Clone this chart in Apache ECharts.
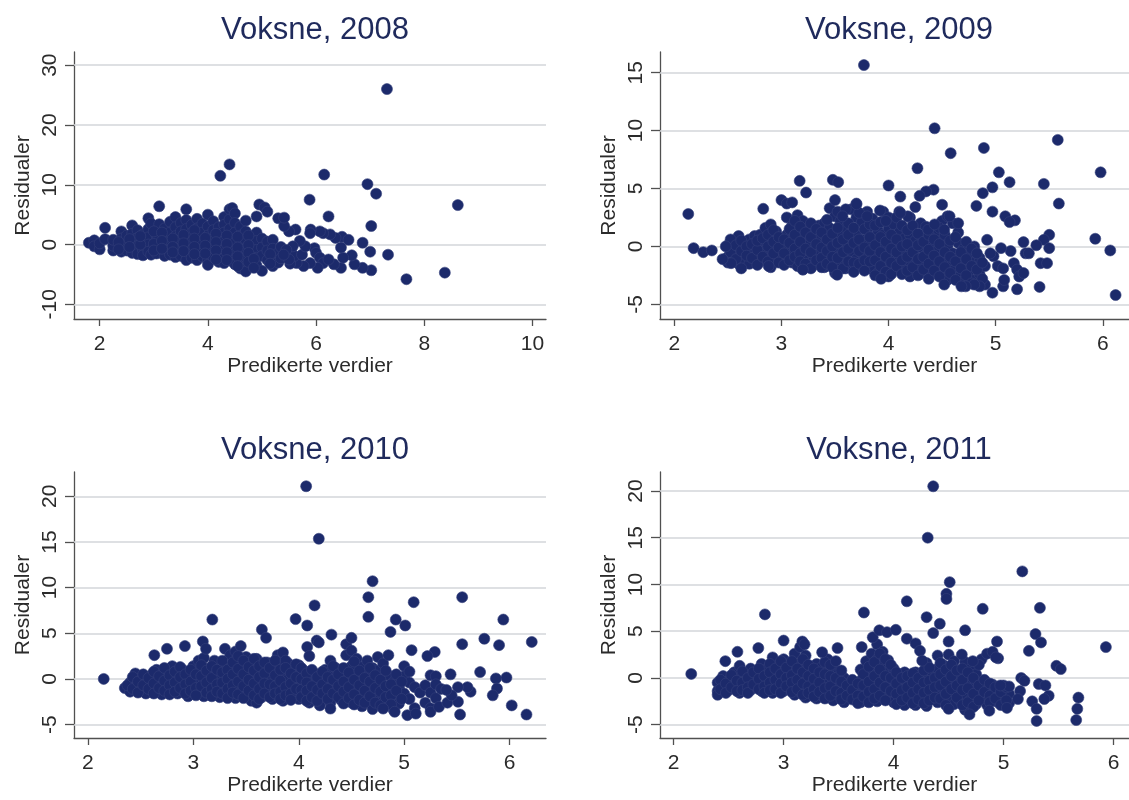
<!DOCTYPE html>
<html><head><meta charset="utf-8">
<script src="https://cdn.jsdelivr.net/npm/echarts@6/dist/echarts.min.js"></script>
<style>html,body{margin:0;padding:0;background:#fff}#c{width:1129px;height:800px}</style>
</head><body><div id="c"></div>
<script>
// ---------- DATA ----------
const titles = ['Voksne, 2008', 'Voksne, 2009', 'Voksne, 2010', 'Voksne, 2011'];
const xAxisTitle = 'Predikerte verdier';
const yAxisTitle = 'Residualer';

const xTicks2008 = [2, 4, 6, 8, 10];
const yTicks2008 = [-10, 0, 10, 20, 30];
const xTicks2009 = [2, 3, 4, 5, 6];
const yTicks2009 = [-5, 0, 5, 10, 15];
const xTicks2010 = [2, 3, 4, 5, 6];
const yTicks2010 = [-5, 0, 5, 10, 15, 20];
const xTicks2011 = [2, 3, 4, 5, 6];
const yTicks2011 = [-5, 0, 5, 10, 15, 20];

// dense part of each cloud: [predicted value, [residuals...]]
const cols2008 = [
 [1.8,[0.3]],[1.9,[0.7,-0.3]],[2.0,[-0.8,0.2]],[2.1,[2.8,0.9]],[2.25,[-1.0,-0.2,0.8]],
 [2.4,[2.2,1.0,-0.1,-1.2]],[2.5,[-1.0,0.3,1.5]],[2.6,[3.2,1.8,0.4,-0.7,-1.4]],[2.7,[2.4,1.1,-0.2,-1.6]],
 [2.8,[1.7,0.5,-0.9,-1.8]],[2.9,[4.4,2.6,1.2,0,-1.2]],[2.95,[3.5,-1.7]],[3.05,[1.6,0.6,-0.5,-1.5]],
 [3.1,[6.4,3.4]],[3.2,[2.7,1.2,-0.1,-1.2,-1.9]],[3.3,[3.8,2.0,0.6,-0.8,-1.7]],[3.4,[4.6,2.9,1.4,0,-1.3,-2.1]],
 [3.5,[3.6,2.2,0.8,-0.6,-1.9]],[3.6,[5.9,4.1,2.6,1.2,-0.2,-1.5,-2.6]],[3.7,[3.3,1.9,0.5,-0.9,-2.2]],
 [3.8,[4.3,2.7,1.3,-0.1,-1.6,-2.6]],[3.9,[3.5,2.0,0.6,-0.8,-2.0]],[4.0,[5.0,3.0,1.5,0.1,-1.4,-2.7,-3.4]],
 [4.1,[3.9,2.4,0.9,-0.6,-2.1]],[4.2,[2.9,1.5,0.1,-1.4,-2.9]],[4.3,[4.6,3.3,2.0,0.6,-0.9,-2.3,-3.1]],
 [4.4,[5.9,4.2,2.6,1.1,-0.3,-1.7]],[4.45,[6.1,-2.8]],[4.5,[5.2,3.6,2.0,0.5,-1.0,-2.4,-3.3]],
 [4.6,[3.0,1.5,0,-1.5,-3.0,-4.0]],[4.7,[4.0,2.2,0.8,-0.7,-2.2,-3.6,-4.5]],[4.8,[1.4,0,-1.5,-3.0]],
 [4.9,[4.7,2.0,0.6,-0.9,-2.2,-3.5]],[4.95,[6.7]],[5.0,[1.0,-0.5,-1.9,-4.4]],[5.05,[6.2]],
 [5.1,[5.5,0.5,-1.0,-2.6]],[5.2,[0.8,-0.7,-2.0,-3.6]],[5.3,[4.4,-1.4,-3.0]],[5.35,[-0.4,-2.3]]
];
const fill2008 = [
 [2.35,[0.4,-0.8]],[2.55,[0.9,-0.4]],[2.75,[0.0,1.4]],[3.0,[2.2,0.1,-1.0]],[3.15,[2.0,0.6,-0.7]],
 [3.35,[1.0,-0.4,-1.3]],[3.55,[1.6,0.2,-1.1]],[3.75,[2.4,1.0,-0.4,-1.6]],[3.95,[1.1,-0.2,-1.5]],
 [4.15,[1.8,0.4,-1.0,-2.5]],[4.35,[1.5,0.1,-1.3,-2.6]],[4.55,[1.3,-0.5,-2.0,-3.6]],[4.75,[1.5,-0.1,-1.4,-2.9]],
 [4.85,[-2.4,-3.9]],[5.15,[-1.6,-3.2]]
];
const extra2008 = [
 [7.31,26.0],[4.40,13.4],[4.23,11.5],[6.15,11.7],[6.95,10.1],[7.11,8.5],[8.62,6.6],[5.88,7.5],[6.23,4.7],
 [7.02,3.1],[7.33,-1.7],[7.67,-5.8],[8.38,-4.7],[7.0,-1.2],[6.86,0.3],[7.02,-4.3],[6.86,-3.9],[6.71,-3.3],
 [6.66,-1.8],[6.46,-3.9],[6.5,-2.2],[6.46,-0.5],[6.48,1.3],[6.6,0.8],[6.36,1.1],[6.26,1.7],[6.13,1.9],
 [6.07,2.2],[5.9,2.5],[5.89,1.9],[5.97,-0.6],[6.0,-1.4],[6.07,-2.2],[6.13,-3.1],[6.03,-3.9],[5.89,-3.1],
 [5.77,-3.6],[5.64,-3.1],[5.52,-3.2],[5.6,-1.9],[5.74,-1.7],[5.8,-0.3],[5.7,0.6],[5.57,-0.3],[5.62,2.5],
 [5.5,2.2],[5.41,3.1],[5.41,4.5],[6.33,-3.3],[6.23,-2.5],[5.45,-0.9],[5.5,-2.5],[5.4,-1.7]
];

const cols2009 = [
 [2.5,[0.1,-0.9,-1.4]],[2.55,[0.5,-0.4]],[2.6,[0.9,0.0,-0.8,-1.5]],[2.65,[0.4,-1.2]],[2.7,[-0.3,-1.5,0.6]],
 [2.75,[0.9,-0.9]],[2.8,[1.0,0.2,-0.6,-1.3]],[2.85,[1.6,0.4,-0.3]],[2.9,[1.9,0.8,-0.2,-1.0,-1.8]],
 [2.95,[1.3,-0.6]],[3.0,[4.0,0.3,-0.4,-1.1]],[3.05,[3.7,2.5,1.0,0,-0.9]],[3.1,[3.8,1.8,0.6,-0.5,-1.4]],
 [3.15,[2.7,1.2,-0.1,-1.7]],[3.2,[2.2,0.8,-0.7,-2.0]],[3.25,[1.6,0.2,-1.2]],[3.3,[1.2,-0.2,-0.9,-1.6]],
 [3.35,[1.8,0.6,-0.5]],[3.4,[2.0,1.0,0.2,-0.8,-1.8]],[3.45,[3.3,1.6,-0.2,-1.3]],[3.5,[4.0,2.6,0.5,-0.6,-2.3]],
 [3.55,[2.2,1.1,-0.1,-1.5]],[3.6,[1.6,0.4,-0.9,-1.9]],[3.65,[3.2,0.9,-0.4]],[3.7,[3.7,2.5,1.2,0.1,-1.1,-1.8]],
 [3.75,[2.1,0.6,-0.6]],[3.8,[3.0,1.4,0.2,-0.9,-1.6]],[3.85,[2.4,0.8,-0.3,-2.0]],[3.9,[1.4,0.3,-0.9,-2.3]],
 [3.95,[3.0,1.0,-0.2,-1.4]],[4.0,[2.5,1.6,0.5,-0.6,-1.9,-2.6]],[4.05,[1.9,0.1,-1.2]],[4.1,[3.0,1.2,0.3,-0.8,-2.0]],
 [4.15,[0.7,-0.5,-1.6]],[4.2,[2.5,1.0,-0.2,-1.3,-2.6]],[4.25,[3.4,0.5,-0.9]],[4.3,[2.0,-0.1,-1.5,-2.3]],
 [4.35,[1.7,0.8,-0.7]],[4.4,[1.2,0.3,-1.1,-2.4]],[4.45,[1.0,-0.4,-1.9]],[4.5,[2.2,0.6,-0.9,-2.5]],
 [4.55,[2.6,0.0,-1.4,-2.9]],[4.6,[2.0,-0.6,-2.1]],[4.65,[1.2,0.3,-1.0,-2.7]],[4.7,[-0.2,-1.6,-3.0]],
 [4.75,[-0.8,-2.2]],[4.8,[0.0,-1.4,-2.9]],[4.85,[-1.0,-2.4]],[4.9,[-1.7,-3.3]]
];
const fill2009 = [
 [2.525,[-0.5,0.6]],[2.575,[-1.1,0.1]],[2.625,[-0.4,0.5,-1.9]],[2.675,[0.0,-0.8]],[2.725,[0.2,-1.0]],
 [2.775,[-0.3,-1.6,0.5]],[2.825,[-0.9,0.7]],[2.875,[0.0,-1.3,1.0]],[2.925,[0.4,-0.6,1.4]],[2.975,[-0.1,-1.4,0.8]],
 [3.025,[0.6,-0.6,-1.6]],[3.075,[1.5,0.3,-1.2]],[3.125,[1.0,-0.2,-0.9,2.2]],[3.175,[0.4,-0.6,-1.3,1.7]],
 [3.225,[1.2,-0.2,-1.5]],[3.275,[0.8,-0.5,-1.9,2.0]],[3.325,[0.2,-1.2,1.5]],[3.375,[1.2,-0.1,-1.0,-1.8]],
 [3.425,[0.6,-0.4,-1.5,2.3]],[3.475,[1.1,0.0,-0.9,-1.8]],[3.525,[1.6,0.3,-1.0,3.0]],[3.575,[0.6,-0.5,-1.9]],
 [3.625,[2.0,1.0,-0.2,-1.3]],[3.675,[1.6,0.3,-1.4,-2.2]],[3.725,[0.6,-0.4,-1.5,2.9]],[3.775,[1.5,-0.1,-1.2,-2.1]],
 [3.825,[0.8,-0.4,-1.3,1.9]],[3.875,[1.8,0.1,-1.2,-2.5]],[3.925,[0.8,-0.5,-1.7,2.1]],[3.975,[2.2,0.4,-0.9,-2.2]],
 [4.025,[1.0,-0.2,-1.4,-2.4]],[4.075,[2.5,0.6,-0.5,-1.7]],[4.125,[1.8,0.0,-1.2,-2.4]],[4.175,[1.4,0.2,-0.9,-2.1]],
 [4.225,[1.8,-0.5,-1.8]],[4.275,[1.1,0.1,-1.1,-2.5]],[4.325,[0.4,-0.9,-2.0]],[4.375,[1.0,-0.3,-1.5,-2.8]],
 [4.425,[0.6,-0.8,-2.1]],[4.475,[0.2,-1.3,-2.6,1.6]],[4.525,[1.0,-0.5,-1.8]],[4.575,[0.5,-0.9,-2.3]],
 [4.625,[0.8,-1.3,-2.9]],[4.675,[-0.5,-1.9]],[4.725,[0.4,-1.1,-2.5]],[4.775,[-0.2,-1.7,-3.2]],
 [4.825,[-0.6,-2.0]],[4.875,[-1.4,-2.8]]
];
const extra2009 = [
 [2.13,2.8],[2.83,3.25],[3.17,5.66],[3.23,4.65],[3.48,5.75],[3.53,5.55],[3.77,15.66],[4.0,5.26],[4.43,10.2],
 [4.58,8.05],[4.89,8.5],[5.58,9.2],[4.27,6.75],[5.98,6.4],[5.03,6.4],[5.13,5.55],[5.45,5.4],[5.59,3.7],
 [5.93,0.66],[6.07,-0.35],[6.12,-4.2],[4.42,4.9],[4.35,4.75],[4.29,4.37],[4.11,4.3],[4.5,3.6],[4.88,4.6],
 [4.97,5.1],[4.82,3.5],[4.97,3.0],[5.09,2.6],[5.18,2.25],[5.13,2.1],[4.92,0.57],[5.26,0.37],[5.5,1.0],
 [5.45,0.57],[5.38,0.1],[5.5,-0.15],[5.42,-1.45],[5.48,-1.45],[5.41,-3.5],[5.2,-3.7],[4.97,-4.0],[5.07,-3.45],
 [5.08,-2.9],[5.02,-1.7],[5.07,-1.9],[5.17,-1.45],[5.2,-2.0],[5.22,-2.6],[5.26,-2.3],[5.28,-0.6],[5.31,-0.6],
 [5.14,-0.4],[5.05,-0.15],[4.98,-0.85],[4.95,-0.6],[4.85,-3.45],[4.8,-3.3],[4.72,-3.45],[4.68,-3.45],
 [4.52,-3.3],[3.93,-2.8],[3.52,-2.45],[3.2,-2.0],[2.88,-1.7],[2.53,-1.45],[2.18,-0.15],[2.27,-0.5],
 [2.35,-0.35],[2.45,-1.1],[2.48,0],[4.37,1.44],[4.43,1.9],[4.52,1.44],[4.57,2.6],[4.65,2.0],[4.18,2.6],
 [4.11,2.9],[3.92,3.1],[3.6,3.2],[3.57,2.6],[3.7,3.65],[3.8,2.6]
];

const cols2010 = [
 [2.35,[-1.0]],[2.4,[-0.4,-1.4]],[2.45,[0.6,-0.8]],[2.5,[0.1,-1.2]],[2.55,[-0.5,-1.6]],[2.6,[0.4,-0.9]],
 [2.65,[1.0,-0.2,-1.4]],[2.7,[0.5,-0.8,-1.7]],[2.75,[0.9,-0.3,-1.2]],[2.8,[1.4,0.1,-1.0]],[2.85,[0.6,-0.5,-1.6]],
 [2.9,[1.0,-0.1,-1.3]],[2.95,[0.4,-0.9,-1.9]],[3.0,[1.4,0.1,-0.6,-1.5]],[3.05,[2.0,0.8,-0.4,-1.3]],
 [3.1,[2.3,1.2,-0.1,-1.0,-1.9]],[3.15,[0.4,-0.7]],[3.2,[2.0,1.0,-0.3,-1.6]],[3.25,[0.3,-0.9,-2.0]],
 [3.3,[3.3,1.4,0.6,-0.4,-1.4]],[3.35,[2.6,1.0,-0.1,-1.8]],[3.4,[3.0,2.0,0.4,-0.8,-2.1]],[3.45,[3.6,1.2,0.0,-1.4]],
 [3.5,[2.4,0.7,-0.4,-1.9]],[3.55,[1.6,0.2,-1.0,-2.4]],[3.6,[2.2,1.0,-0.3,-1.6,-2.6]],[3.65,[0.4,-0.9,-2.0]],
 [3.7,[1.8,0.8,-0.3,-1.5]],[3.75,[1.1,-0.1,-1.2,-2.2]],[3.8,[2.6,1.4,0.3,-0.8,-1.9]],[3.85,[2.9,0.6,-0.4,-2.4]],
 [3.9,[1.7,0.0,-1.2]],[3.95,[1.0,-0.7,-1.9]],[4.0,[1.5,0.4,-0.4,-1.4,-2.2]],[4.05,[0.9,-0.9]],
 [4.1,[0.2,-1.6,-2.6]],[4.15,[0.6,-0.5]],[4.2,[0.3,-1.1,-2.9]],[4.25,[1.0,-0.4,-1.9]],[4.3,[2.0,0.8,-0.6,-2.6]],
 [4.35,[1.2,-0.2,-1.5]],[4.4,[0.7,-1.0,-2.3]],[4.45,[3.8,2.6,0.2,-1.7]],[4.5,[4.5,3.1,1.4,-0.5,-2.6]],
 [4.55,[2.2,0.5,-1.2]],[4.6,[1.3,-0.2,-1.9,-3.0]],[4.65,[2.0,0.6,-1.0,-2.5]],[4.7,[1.2,-0.4,-3.3]],
 [4.75,[2.4,0.9,-1.6]],[4.8,[1.7,-0.7,-2.4]],[4.85,[2.6,0.4,-1.3]],[4.9,[-0.3,-2.0,-3.4]],[4.95,[-0.9,-2.7]],
 [5.0,[1.4,0.3,-1.6]],[5.05,[0.8,-0.4,-2.2]],[5.1,[-0.9,-3.2]],[5.15,[-1.5]],[5.2,[-0.7,-2.6]],
 [5.25,[0.4,-1.5,-3.2]],[5.3,[0.3,-0.6,-2.1]],[5.35,[-1.1]]
];
const fill2010 = [
 [2.375,[-0.7]],[2.425,[-1.1,0.2]],[2.475,[-0.3,-1.5]],[2.525,[0.5,-0.7]],[2.575,[0.1,-1.1]],
 [2.625,[-0.5,-1.6,0.8]],[2.675,[0.3,-1.0]],[2.725,[1.2,-0.2,-1.3]],[2.775,[0.4,-0.7,-1.7]],[2.825,[0.8,-0.4,-1.4]],
 [2.875,[1.3,0.2,-1.0]],[2.925,[0.5,-0.6,-1.6]],[2.975,[1.0,-0.3,-1.3]],[3.025,[0.5,-1.0,-1.8]],
 [3.075,[1.5,0.3,-0.8]],[3.125,[0.9,-0.4,-1.5]],[3.175,[1.4,0.1,-1.1,-1.9]],[3.225,[1.0,-0.6,-1.4]],
 [3.275,[2.0,0.7,-0.4,-1.6]],[3.325,[1.0,0.0,-1.1,-2.1]],[3.375,[1.8,0.5,-0.7,-1.5]],[3.425,[1.1,-0.3,-1.7,2.5]],
 [3.475,[2.0,0.5,-0.8,-2.1]],[3.525,[1.3,-0.1,-1.3]],[3.575,[2.2,0.9,-0.5,-1.8]],[3.625,[1.4,0.2,-1.1,-2.2]],
 [3.675,[1.8,0.6,-0.5,-1.6]],[3.725,[1.2,-0.6,-2.0]],[3.775,[2.0,0.4,-0.8,-1.6]],[3.825,[1.0,-0.2,-1.4,-2.2]],
 [3.875,[2.0,1.2,-0.9,-1.8]],[3.925,[0.6,-0.5,-1.6,-2.3]],[3.975,[1.6,0.2,-1.1]],[4.025,[1.2,0.0,-1.2,-2.0]],
 [4.075,[0.6,-0.4,-1.3,-2.4]],[4.125,[1.0,-0.8,-2.0]],[4.175,[0.2,-1.2,-2.4]],[4.225,[0.8,-0.6,-1.6]],
 [4.275,[0.2,-1.1,-2.2]],[4.325,[1.4,-0.1,-1.6]],[4.375,[0.5,-0.8,-2.0]],[4.425,[1.2,-0.3,-1.4,-2.7]],
 [4.475,[0.7,-0.9,-2.1]],[4.525,[1.9,-0.1,-1.7,-2.8]],[4.575,[0.9,-0.7,-2.3]],[4.625,[0.1,-1.3,-2.6]],
 [4.675,[1.2,-0.3,-1.9]],[4.725,[0.4,-1.0,-2.6]],[4.775,[-0.1,-1.4,-2.9]],[4.825,[0.9,-0.8,-2.0]],
 [4.875,[-0.6,-1.8,-2.8]],[4.925,[0.5,-1.3]],[4.975,[-0.3,-2.2]]
];
const extra2010 = [
 [4.07,21.1],[4.19,15.35],[4.70,10.7],[4.66,8.95],[4.66,6.8],[4.15,8.05],[5.55,8.95],[5.09,8.4],[5.94,6.5],
 [3.18,6.5],[3.97,6.55],[4.08,5.85],[4.92,6.5],[5.01,5.85],[4.87,5.15],[4.31,4.85],[4.17,4.2],[4.19,4.0],
 [4.08,3.5],[4.1,2.5],[3.65,5.4],[3.69,4.5],[5.55,3.8],[5.76,4.4],[5.9,3.7],[6.21,4.05],[5.07,3.15],
 [5.29,2.95],[5.22,2.5],[5.72,0.75],[5.44,0.5],[5.87,0.05],[5.97,0.15],[5.88,-1.05],[5.84,-1.8],[5.63,-1.4],
 [5.6,-0.9],[5.51,-0.9],[5.51,-2.5],[5.53,-3.9],[6.02,-2.9],[6.16,-3.9],[2.15,0],[2.63,2.6],[2.75,3.3],
 [2.92,3.6],[3.09,4.1],[3.12,3.3],[5.03,-3.97],[5.11,-3.8],[4.91,-3.6],[4.8,-3.25],[4.3,-3.25],[5.25,-3.6],
 [5.33,-3.06],[5.41,-2.6],[5.45,-1.8],[5.4,-1.2]
];

const cols2011 = [
 [2.4,[-0.5,-1.4,-1.8]],[2.45,[0.2,-0.9]],[2.5,[-0.3,-1.3]],[2.55,[0.6,-0.8]],[2.6,[1.3,0.0,-1.1,-1.6]],
 [2.65,[0.4,-0.6]],[2.7,[1.0,-0.2,-1.3]],[2.75,[0.3,-0.9]],[2.8,[1.5,0.6,-0.5,-1.4]],[2.85,[1.0,-0.2,-1.1]],
 [2.9,[2.2,0.4,-0.7,-1.6]],[2.95,[1.3,0.0,-1.0]],[3.0,[2.0,0.7,-0.4,-1.4]],[3.05,[1.4,-0.1,-1.1]],
 [3.1,[2.6,0.5,-0.8,-1.8]],[3.15,[3.3,1.6,-0.3,-1.5]],[3.2,[2.4,1.0,0.1,-1.0,-2.1]],[3.25,[0.6,-0.5,-1.6]],
 [3.3,[1.5,0.0,-1.2,-2.2]],[3.35,[1.2,-0.8,-1.9]],[3.4,[2.0,0.4,-0.4,-1.5]],[3.45,[1.0,-0.1,-1.1,-2.4]],
 [3.5,[0.5,-0.8,-1.8]],[3.55,[0.0,-1.3,-2.6]],[3.6,[-0.6,-1.7]],[3.65,[-1.0,-2.3]],[3.7,[0.9,-0.3,-1.5,-2.6]],
 [3.75,[1.8,0.2,-1.0,-2.2]],[3.8,[2.6,1.0,-0.4,-1.8]],[3.85,[3.6,2.0,0.5,-0.9,-2.5]],[3.9,[2.8,1.4,-0.1,-1.4]],
 [3.95,[1.9,0.6,-0.7,-2.1]],[4.0,[1.0,-0.2,-1.3,-2.6]],[4.05,[0.4,-0.8,-1.9]],[4.1,[0.6,-0.4,-1.6,-2.9]],
 [4.15,[0.0,-1.1,-2.3]],[4.2,[0.6,-0.6,-1.8,-2.9]],[4.25,[0.3,-1.2,-2.5]],[4.3,[1.6,0.0,-0.9,-2.0,-3.0]],
 [4.35,[0.6,-0.5,-1.5]],[4.4,[2.4,1.0,-0.2,-1.8,-2.6]],[4.45,[1.4,0.1,-1.1]],[4.5,[2.5,0.8,-0.6,-2.2]],
 [4.55,[1.8,-0.2,-1.5,-2.8]],[4.6,[0.4,-0.9,-2.4]],[4.65,[1.7,-0.4,-1.7,-3.4]],[4.7,[1.0,-0.8,-2.3]],
 [4.75,[0.4,-1.3,-2.8]],[4.8,[2.0,-0.5,-2.0]],[4.85,[2.6,-1.0,-2.9]],[4.9,[-0.7,-1.8]],[4.95,[2.1,-1.2,-2.6]],
 [5.0,[-2.2]],[5.05,[-1.7,-2.7]]
];
const fill2011 = [
 [2.425,[-0.2,-1.2]],[2.475,[-0.6,-1.6]],[2.525,[0.3,-1.0]],[2.575,[-0.3,-1.4]],[2.625,[0.7,-0.5,-1.3]],
 [2.675,[0.0,-1.0,-1.6]],[2.725,[0.6,-0.7]],[2.775,[1.0,-0.1,-1.2]],[2.825,[0.2,-0.9,-1.6]],
 [2.875,[1.5,0.6,-0.5,-1.3]],[2.925,[1.0,-0.2,-1.2]],[2.975,[1.8,0.4,-0.6,-1.6]],[3.025,[1.1,0.0,-0.9]],
 [3.075,[1.8,0.3,-0.5,-1.5]],[3.125,[1.0,-0.2,-1.2]],[3.175,[2.0,0.6,-0.6,-1.8]],[3.225,[1.4,0.2,-0.9,-1.6]],
 [3.275,[1.0,-0.1,-1.2,-2.0]],[3.325,[0.6,-0.5,-1.5]],[3.375,[1.7,0.4,-1.1,-2.2]],[3.425,[1.4,0.2,-0.9,-1.9]],
 [3.475,[1.8,0.0,-1.4]],[3.525,[0.8,-0.4,-1.6,-2.3]],[3.575,[-0.8,-1.9]],[3.625,[-0.2,-1.3,-2.3]],
 [3.675,[-0.6,-1.9,-2.7]],[3.725,[0.4,-0.8,-2.0]],[3.775,[1.2,-0.4,-1.5,-2.6]],[3.825,[1.7,0.2,-1.2,-2.2]],
 [3.875,[2.6,0.9,-0.5,-1.9]],[3.925,[2.0,0.2,-1.0,-2.4]],[3.975,[1.4,0.0,-1.4]],[4.025,[0.6,-0.6,-1.7,-2.8]],
 [4.075,[0.0,-1.3,-2.4]],[4.125,[0.2,-1.0,-2.1]],[4.175,[0.5,-0.5,-1.6,-2.7]],[4.225,[0.0,-1.2,-2.3]],
 [4.275,[0.8,-0.5,-1.6,-2.7]],[4.325,[1.1,-0.3,-1.3,-2.4]],[4.375,[0.0,-1.0,-2.1]],[4.425,[1.6,0.4,-0.8,-2.2]],
 [4.475,[0.9,-0.4,-1.7,-2.9]],[4.525,[1.4,0.2,-1.2]],[4.575,[0.8,-0.8,-2.1]],[4.625,[1.0,-0.2,-1.3,-2.9]],
 [4.675,[0.6,-1.1,-2.6]],[4.725,[0.0,-1.7,-3.1]],[4.775,[1.4,-0.8,-2.4]],[4.825,[-0.2,-1.5]],
 [4.875,[-0.6,-1.9,-2.6]],[4.925,[-1.0,-2.2]],[4.975,[-1.5,-2.9]],[5.025,[-1.0,-2.4]]
];
const extra2011 = [
 [4.36,20.5],[4.31,15.0],[5.17,11.4],[4.51,10.25],[4.48,9.0],[4.48,8.45],[4.12,8.2],[4.81,7.4],[5.33,7.5],
 [2.83,6.8],[3.73,7.0],[4.3,6.5],[4.42,5.8],[4.65,5.1],[4.36,4.8],[4.5,3.9],[4.94,3.9],[5.29,4.7],[5.34,3.8],
 [5.23,2.9],[5.93,3.3],[5.48,1.3],[5.52,0.95],[5.16,0],[5.19,-0.3],[5.32,-0.65],[5.38,-0.8],[5.41,-1.9],
 [5.37,-2.25],[5.26,-2.5],[5.3,-3.3],[5.3,-4.6],[5.15,-1.4],[5.13,-2.25],[5.68,-2.1],[5.67,-3.3],[5.66,-4.5],
 [2.16,0.43],[2.47,1.8],[2.58,2.8],[2.77,3.2],[3.0,4.0],[3.17,3.9],[3.19,3.6],[3.35,2.75],[3.49,3.2],
 [3.71,3.3],[3.81,4.35],[3.87,5.1],[3.94,4.9],[4.02,5.15],[4.12,4.2],[4.2,3.7],[4.24,2.9],[4.26,1.85],
 [4.5,-3.3],[4.69,-3.9],[4.87,-3.5],[5.03,-3.2],[4.62,2.5],[4.72,1.8],[4.9,2.8],[4.93,2.2],[5.0,-0.8],
 [5.05,-0.9],[4.97,-0.8]
];

// ---------- BUILD ----------
function toPairs(colSets, extra) {
  const out = [];
  colSets.forEach(function (cols) {
    cols.forEach(function (c) { c[1].forEach(function (y) { out.push([c[0], y]); }); });
  });
  return out.concat(extra);
}
const seriesData = [
  toPairs([cols2008, fill2008], extra2008), toPairs([cols2009, fill2009], extra2009),
  toPairs([cols2010, fill2010], extra2010), toPairs([cols2011, fill2011], extra2011)
];
const xTicks = [xTicks2008, xTicks2009, xTicks2010, xTicks2011];
const yTicks = [yTicks2008, yTicks2009, yTicks2010, yTicks2011];

// layout (pixels) and axis extents
const layout = [
  { grid: {left: 74, top: 52, width: 472, height: 267}, xr: [1.525, 10.25], yr: [-12.45, 32.2], tx: 310, ty: 10 },
  { grid: {left: 660, top: 52, width: 469, height: 267}, xr: [1.866, 6.245], yr: [-6.27, 16.79], tx: 894, ty: 10 },
  { grid: {left: 74, top: 472, width: 472, height: 266}, xr: [1.868, 6.345], yr: [-6.47, 22.66], tx: 310, ty: 430 },
  { grid: {left: 660, top: 472, width: 469, height: 266}, xr: [1.876, 6.14], yr: [-6.42, 22.03], tx: 894, ty: 430 }
];

const FONT = '"Liberation Sans", Arial, sans-serif';
const TXT = '#2b2b2b';
const AXIS = '#505050';
const GRIDC = '#d3d6da';
const DOT = '#1c2a6b';

const option = {
  animation: false,
  backgroundColor: '#ffffff',
  title: layout.map(function (l, i) {
    return { text: titles[i], left: l.tx, top: l.ty, textAlign: 'center',
      textStyle: { fontFamily: FONT, fontSize: 31, fontWeight: 'normal', color: '#1f2a5c' } };
  }),
  grid: layout.map(function (l) { return Object.assign({ containLabel: false }, l.grid); }),
  xAxis: layout.map(function (l, i) {
    return {
      type: 'value', gridIndex: i, min: l.xr[0], max: l.xr[1],
      name: xAxisTitle, nameLocation: 'middle', nameGap: 37,
      nameTextStyle: { fontFamily: FONT, fontSize: 21, color: TXT },
      axisLine: { show: true, onZero: false, lineStyle: { color: AXIS, width: 1.3 } },
      axisTick: { show: true, length: 7, customValues: xTicks[i], lineStyle: { color: AXIS, width: 1.3 } },
      axisLabel: { customValues: xTicks[i], margin: 15, fontFamily: FONT, fontSize: 21, color: TXT },
      splitLine: { show: false }
    };
  }),
  yAxis: layout.map(function (l, i) {
    return {
      type: 'value', gridIndex: i, min: l.yr[0], max: l.yr[1],
      name: yAxisTitle, nameLocation: 'middle', nameGap: 40, nameRotate: 90,
      nameTextStyle: { fontFamily: FONT, fontSize: 21, color: TXT },
      axisLine: { show: true, onZero: false, lineStyle: { color: AXIS, width: 1.3 } },
      axisTick: { show: true, length: 9, customValues: yTicks[i], lineStyle: { color: AXIS, width: 1.3 } },
      axisLabel: { customValues: yTicks[i], rotate: 90, margin: 13, fontFamily: FONT, fontSize: 21, color: TXT },
      splitLine: { show: false }
    };
  }),
  series: seriesData.map(function (d, i) {
    return {
      type: 'scatter', xAxisIndex: i, yAxisIndex: i, data: d,
      symbol: 'circle', symbolSize: 11, z: 3,
      itemStyle: { color: DOT, borderColor: '#34407a', borderWidth: 0.6, opacity: 1 },
      emphasis: { disabled: true },
      markLine: {
        silent: true, z: 1, symbol: ['none', 'none'], animation: false,
        label: { show: false },
        lineStyle: { color: GRIDC, width: 1.6, type: 'solid' },
        emphasis: { disabled: true },
        data: yTicks[i].map(function (v) { return { yAxis: v }; })
      }
    };
  })
};

const chart = echarts.init(document.getElementById('c'), null, { renderer: 'canvas' });
chart.setOption(option);
</script>
</body></html>
